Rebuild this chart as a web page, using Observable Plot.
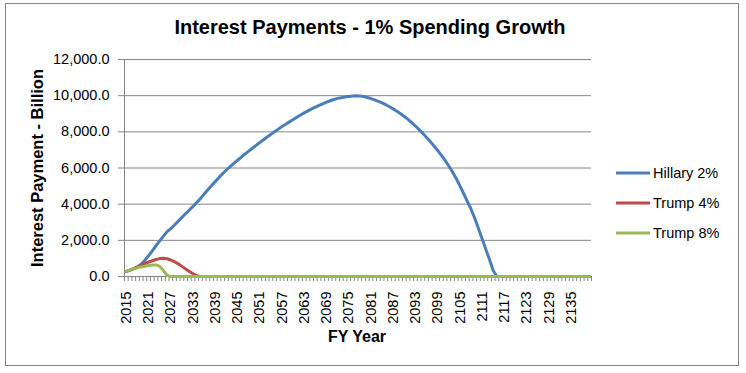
<!DOCTYPE html>
<html><head><meta charset="utf-8">
<script src="https://cdn.jsdelivr.net/npm/d3@7"></script>
<script src="https://cdn.jsdelivr.net/npm/@observablehq/plot@0.6"></script>
<style>
body{margin:0;background:#fff;}
#wrap{position:relative;width:746px;height:373px;overflow:hidden;font-family:"Liberation Sans",Arial,sans-serif;color:#000;background:#fff;}
#border{position:absolute;left:5px;top:3px;width:732px;height:361px;border:1px solid #868686;pointer-events:none;}
#chart{position:absolute;left:0;top:0;}
#title{position:absolute;left:0;width:740px;top:17px;text-align:center;font-weight:bold;font-size:20px;line-height:20px;white-space:nowrap;}
#ylabel{position:absolute;left:37px;top:168px;transform:translate(-50%,-50%) rotate(-90deg);font-weight:bold;font-size:16.5px;line-height:16px;white-space:nowrap;}
#xlabel{position:absolute;left:357px;top:329px;transform:translateX(-50%);font-weight:bold;font-size:16px;line-height:16px;white-space:nowrap;}
#legend{position:absolute;left:616px;top:158px;}
.row{display:flex;align-items:center;height:30px;font-size:14.5px;white-space:nowrap;}
.row svg{margin-right:3px;}
</style></head>
<body>
<div id="wrap">
  <div id="chart"></div>
  <div id="border"></div>
  <div id="title">Interest Payments - 1% Spending Growth</div>
  <div id="ylabel">Interest Payment - Billion</div>
  <div id="xlabel">FY Year</div>
  <div id="legend"></div>
</div>
<script>
// Categories: fiscal years 2015..2140
const firstYear = 2015;
const lastYear = 2140;

// Series values (billions), starting at 2015; later years are 0
const hillary2 = [
  280, 350, 430, 540, 680, 900, 1150, 1420, 1700, 1970,      // 2015-2024
  2230, 2480, 2650, 2850, 3060, 3270, 3480, 3680, 3880, 4090, // 2025-2034
  4320, 4560, 4800, 5030, 5260, 5480, 5690, 5890, 6080, 6260, // 2035-2044
  6430, 6600, 6765, 6930, 7090, 7250, 7410, 7560, 7710, 7860, // 2045-2054
  8010, 8150, 8290, 8420, 8550, 8680, 8810, 8930, 9050, 9160, // 2055-2064
  9270, 9370, 9460, 9550, 9640, 9720, 9790, 9850, 9890, 9930, // 2065-2074
  9960, 9985, 10000, 9980, 9950, 9900, 9840, 9770, 9690, 9600, // 2075-2084
  9500, 9390, 9270, 9140, 9000, 8850, 8690, 8510, 8320, 8120, // 2085-2094
  7910, 7690, 7460, 7220, 6970, 6700, 6420, 6110, 5780, 5420, // 2095-2104
  5010, 4590, 4160, 3720, 3220, 2660, 2080, 1500, 920, 320,   // 2105-2114
  0
];
const trump4 = [
  280, 350, 430, 520, 620, 720, 800, 870, 940, 990,
  1010, 980, 910, 820, 700, 560, 420, 280, 150, 40,
  0
];
const trump8 = [
  280, 350, 420, 480, 530, 570, 610, 640, 640, 560,
  330, 60, 0
];

const seriesNames = ["Hillary 2%", "Trump 4%", "Trump 8%"];
const seriesColors = ["#4A7EBB", "#BE4B48", "#98B954"];
const seriesValues = [hillary2, trump4, trump8];

// Tick labels
const xTickLabels = [2015, 2021, 2027, 2033, 2039, 2045, 2051, 2057, 2063, 2069, 2075, 2081, 2087, 2093, 2099, 2105, 2111, 2117, 2123, 2129, 2135];
const yTicks = [0, 2000, 4000, 6000, 8000, 10000, 12000];

const years = d3.range(firstYear, lastYear + 1);
const tickBoundaries = d3.range(firstYear - 0.5, lastYear + 1);
const rowsFor = vals => years.map((year, i) => ({year, value: i < vals.length ? vals[i] : 0}));

const axisColor = "#868686";
const chart = Plot.plot({
  width: 746,
  height: 373,
  marginLeft: 124,
  marginRight: 155,
  marginTop: 59,
  marginBottom: 97,
  x: {type: "linear", domain: [firstYear - 0.5, lastYear + 0.5]},
  y: {domain: [0, 12000]},
  style: {fontFamily: "'Liberation Sans', Arial, sans-serif", fontSize: "14.5px", color: "#000", background: "transparent"},
  marks: [
    Plot.gridY(yTicks, {stroke: axisColor, strokeOpacity: 1}),
    Plot.axisY(yTicks, {tickSize: 6, tickPadding: 9, tickFormat: d3.format(",.1f"), stroke: axisColor, label: null, fontSize: 14.5}),
    Plot.axisX(tickBoundaries, {tickSize: 5, tickFormat: () => "", stroke: axisColor, label: null}),
    Plot.axisX(xTickLabels, {tickSize: 0, tickPadding: 15, tickRotate: -90, tickFormat: d => String(d), label: null, fontSize: 14.5}),
    Plot.frame({anchor: "left", stroke: axisColor}),
    Plot.frame({anchor: "bottom", stroke: axisColor}),
    ...seriesValues.map((vals, i) =>
      Plot.line(rowsFor(vals), {x: "year", y: "value", stroke: seriesColors[i], strokeWidth: 3, strokeLinejoin: "round", strokeLinecap: "round"})
    )
  ]
});
document.getElementById("chart").appendChild(chart);

// Legend
const legend = d3.select("#legend");
seriesNames.forEach((name, i) => {
  const row = legend.append("div").attr("class", "row");
  const svg = row.append("svg").attr("width", 34).attr("height", 6);
  svg.append("line").attr("x1", 0).attr("x2", 34).attr("y1", 3).attr("y2", 3)
    .attr("stroke", seriesColors[i]).attr("stroke-width", 3);
  row.append("span").text(name);
});
</script>
</body></html>
